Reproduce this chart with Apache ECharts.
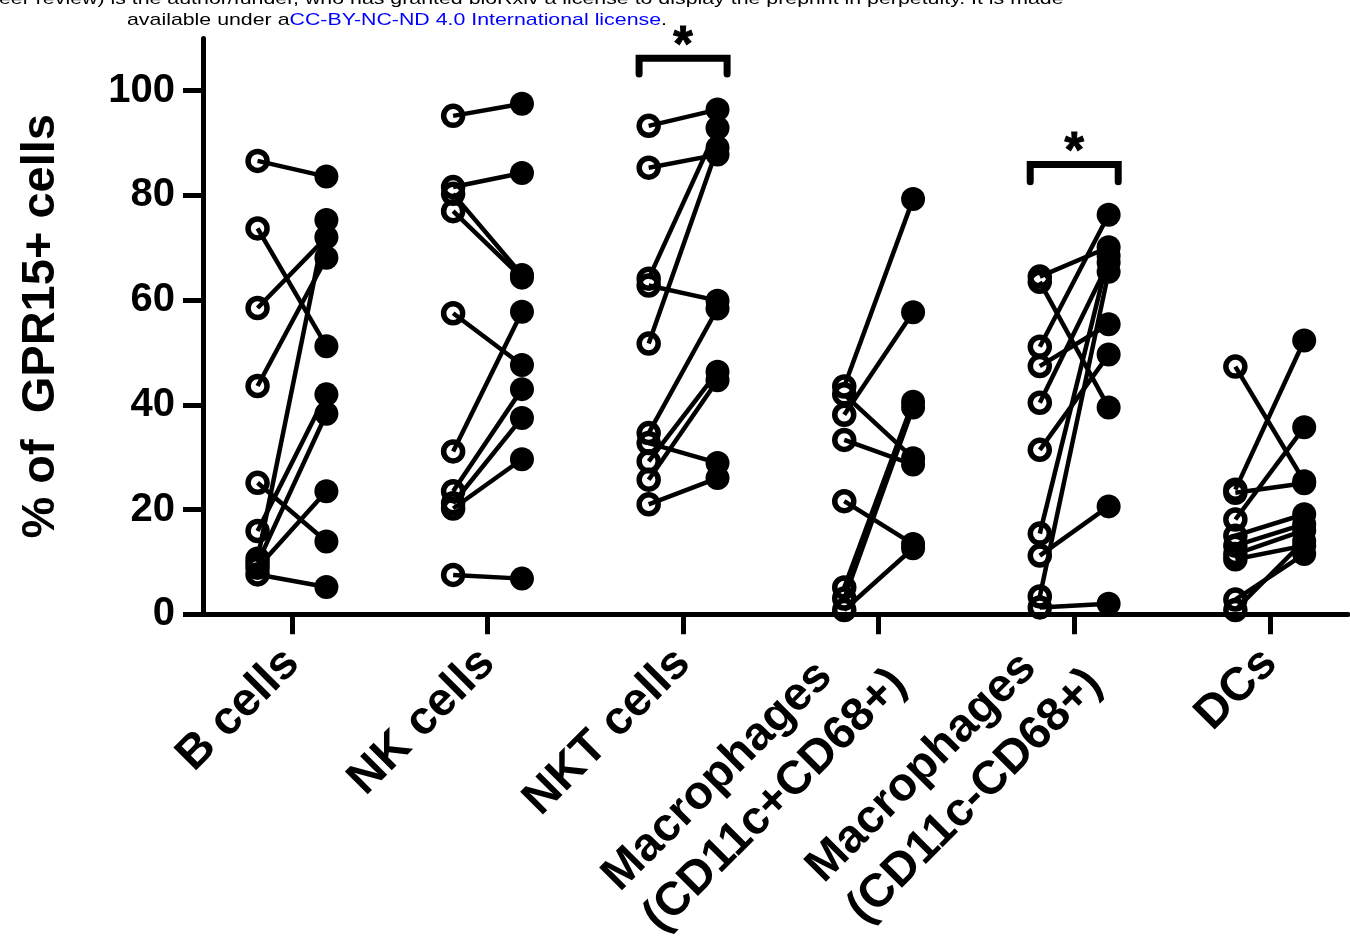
<!DOCTYPE html>
<html>
<head>
<meta charset="utf-8">
<script src="https://cdn.jsdelivr.net/npm/echarts@6/dist/echarts.min.js"></script>
<style>
html,body{margin:0;padding:0;background:#fff;}
#chart{width:1350px;height:943px;}
</style>
</head>
<body>
<div id="chart"></div>
<script>
// ---- data ----
const categories = ['B cells', 'NK cells', 'NKT cells', 'Macrophages\n(CD11c+CD68+)', 'Macrophages\n(CD11c-CD68+)', 'DCs'];
const yTicks = [0, 20, 40, 60, 80, 100];

// paired values: before (open circles) -> after (filled circles)
const bCellsBefore = [86.6, 73.7, 58.5, 43.6, 25.1, 15.9, 10.6, 9.8, 8.9, 7.6];
const bCellsAfter  = [83.6, 51.2, 72.0, 68.1, 13.9, 42.0, 75.3, 38.3, 23.5, 5.2];
const nkBefore = [95.2, 81.6, 80.3, 77.0, 57.5, 31.1, 23.5, 21.2, 20.2, 7.5];
const nkAfter  = [97.5, 84.3, 64.8, 64.3, 47.6, 57.8, 43.0, 37.5, 29.6, 6.8];
const nktBefore = [93.3, 85.3, 64.1, 62.8, 51.7, 34.6, 32.7, 29.2, 25.7, 21.0];
const nktAfter  = [96.4, 87.8, 92.9, 59.9, 89.1, 58.4, 28.9, 46.3, 44.7, 26.0];
const macPosBefore = [43.5, 42.0, 38.1, 33.3, 21.6, 5.1, 3.0, 0.8];
const macPosAfter  = [79.3, 29.8, 57.7, 28.6, 13.4, 40.6, 39.5, 12.6];
const macNegBefore = [64.5, 63.5, 51.1, 47.4, 40.4, 31.4, 15.4, 11.2, 3.4, 1.3];
const macNegAfter  = [70.1, 39.5, 76.3, 55.4, 67.2, 49.6, 68.5, 20.6, 65.4, 2.0];
const dcBefore = [47.3, 23.8, 23.2, 18.1, 15.0, 13.1, 11.5, 10.5, 2.8, 0.8];
const dcAfter  = [25.4, 52.3, 25.0, 35.7, 19.1, 17.2, 16.0, 13.1, 11.5, 14.0];

const beforeGroups = [bCellsBefore, nkBefore, nktBefore, macPosBefore, macNegBefore, dcBefore];
const afterGroups  = [bCellsAfter, nkAfter, nktAfter, macPosAfter, macNegAfter, dcAfter];

// significance annotations: category index, bracket top value, bracket end value, star value
const sigCategory = [2, 4];
const sigTop   = [106.2, 85.9];
const sigFoot  = [103.2, 82.6];
const sigStar  = [108.4, 88.0];

// ---- build ----
const OFF = 0.176;
const HALF = 0.225;
const linesData = [];
const openPts = [];
const filledPts = [];
beforeGroups.forEach((arr, ci) => {
  arr.forEach((v, k) => {
    const a = afterGroups[ci][k];
    linesData.push({ coords: [[ci - OFF, v], [ci + OFF, a]] });
    openPts.push([ci - OFF, v]);
    filledPts.push([ci + OFF, a]);
  });
});

const bracketSeries = sigCategory.map((ci, i) => ({
  type: 'line',
  data: [[ci - HALF, sigFoot[i]], [ci - HALF, sigTop[i]], [ci + HALF, sigTop[i]], [ci + HALF, sigFoot[i]]],
  symbol: 'none',
  lineStyle: { color: '#000', width: 7, cap: 'round', join: 'miter' },
  clip: false,
  silent: true,
  animation: false,
  z: 5
}));

const starData = sigCategory.map((ci, i) => [ci, sigStar[i]]);

const chart = echarts.init(document.getElementById('chart'));
const FONT = 'Liberation Sans, Arial, Helvetica, sans-serif';

chart.setOption({
  animation: false,
  backgroundColor: '#fff',
  grid: { left: 203, right: 2, top: 38.4, bottom: 326 },
  graphic: [
    {
      type: 'text', x: -1, y: -9, scaleX: 1.255,
      style: {
        text: 'eer review) is the author/funder, who has granted bioRxiv a license to display the preprint in perpetuity. It is made',
        font: '17px ' + FONT, fill: '#000'
      }
    },
    {
      type: 'text', x: 127, y: 12, scaleX: 1.255,
      style: {
        text: '{k|available under a}{b|CC-BY-NC-ND 4.0 International license}{k|.}',
        font: '17px ' + FONT,
        rich: {
          k: { fill: '#000', font: '17px ' + FONT },
          b: { fill: '#0000ff', font: '17px ' + FONT }
        }
      }
    }
  ],
  xAxis: {
    type: 'value',
    min: -0.455,
    max: 5.4,
    splitLine: { show: false },
    axisLine: { show: true, onZero: false, lineStyle: { color: '#000', width: 5 } },
    axisTick: {
      show: true, length: 20, customValues: categories.map((c, i) => i),
      lineStyle: { color: '#000', width: 5 }
    },
    axisLabel: {
      show: true,
      customValues: categories.map((c, i) => i),
      rotate: 45,
      margin: 42,
      formatter: (v) => {
        const name = categories[Math.round(v)] || '';
        return name.split('\n').map(s => '{a|' + s + '}').join('\n');
      },
      rich: {
        a: { align: 'left', fontSize: 47, fontWeight: 'bold', fontFamily: FONT, color: '#000', lineHeight: 58 }
      }
    }
  },
  yAxis: {
    type: 'value',
    min: 0,
    max: 110,
    name: '% of  GPR15+ cells',
    nameLocation: 'middle',
    nameGap: 138,
    nameTextStyle: { fontSize: 47, fontWeight: 'bold', fontFamily: FONT, color: '#000' },
    splitLine: { show: false },
    axisLine: { show: true, onZero: false, lineStyle: { color: '#000', width: 5 } },
    axisTick: { show: true, length: 20, customValues: yTicks, lineStyle: { color: '#000', width: 5 } },
    axisLabel: {
      show: true, customValues: yTicks, margin: 28,
      fontSize: 40, fontWeight: 'bold', fontFamily: FONT, color: '#000'
    }
  },
  series: [
    {
      type: 'lines',
      coordinateSystem: 'cartesian2d',
      polyline: false,
      data: linesData,
      lineStyle: { color: '#000', width: 4.5, opacity: 1, curveness: 0 },
      silent: true,
      z: 2
    },
    {
      type: 'scatter',
      data: openPts,
      symbol: 'circle',
      symbolSize: 19,
      itemStyle: { color: 'rgba(255,255,255,0)', borderColor: '#000', borderWidth: 5.5, opacity: 1 },
      clip: false,
      z: 3
    },
    {
      type: 'scatter',
      data: filledPts,
      symbol: 'circle',
      symbolSize: 24,
      itemStyle: { color: '#000', opacity: 1 },
      clip: false,
      z: 3
    },
    ...bracketSeries,
    {
      type: 'scatter',
      data: starData,
      symbolSize: 0,
      clip: false,
      itemStyle: { color: '#000', opacity: 1 },
      label: {
        show: true, position: 'inside', formatter: '*',
        fontSize: 50, fontWeight: 'bold', fontFamily: FONT, color: '#000',
        textBorderWidth: 1, textBorderColor: '#000', opacity: 1
      },
      z: 6
    }
  ]
});
</script>
</body>
</html>
